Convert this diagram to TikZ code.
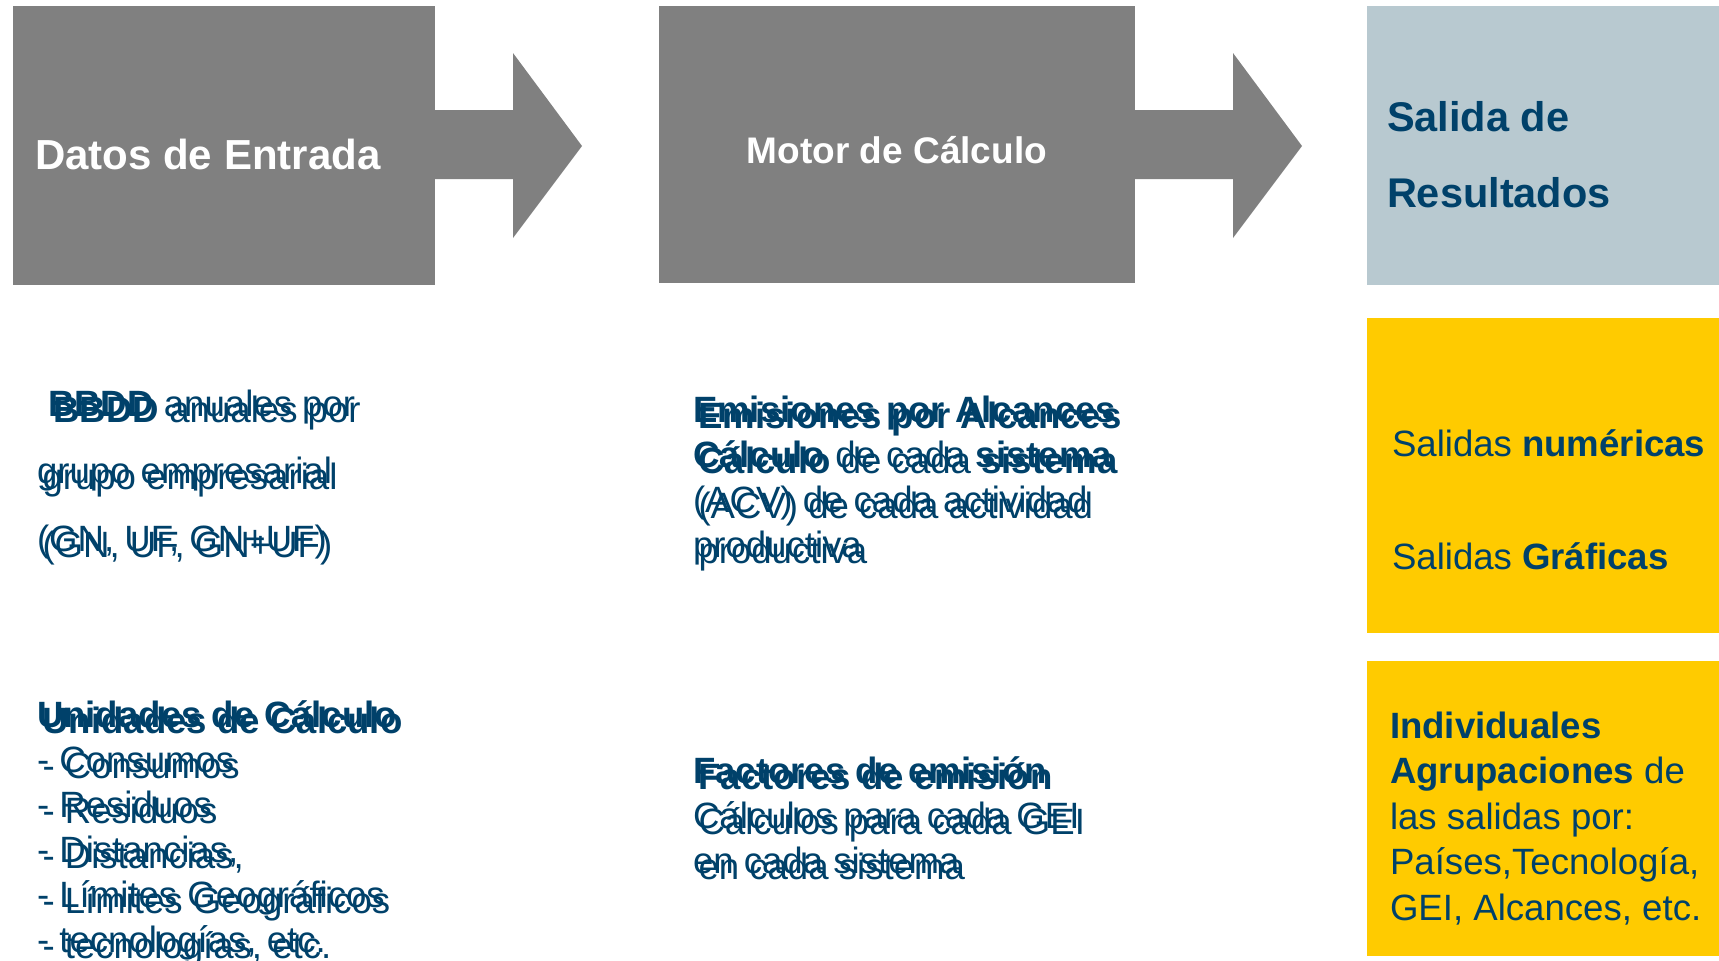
\documentclass[tikz,border=0pt]{standalone}
\usepackage{fontspec}
\setmainfont{Liberation Sans}
\definecolor{gr}{RGB}{128,128,128}
\definecolor{lb}{RGB}{184,201,208}
\definecolor{yl}{RGB}{255,203,0}
\definecolor{db}{RGB}{0,65,106}
\begin{document}
\begin{tikzpicture}[x=1pt,y=-1pt,
  blk/.style={inner sep=0pt, outer sep=0pt, anchor=north west, draw=none},
  txt/.style={inner sep=0pt, outer sep=0pt, anchor=base west, align=left, text=db, font=\fontsize{36.6}{45}\selectfont},
  dup/.style={xshift=5.5pt, yshift=-6pt}]
\useasboundingbox (0,0) rectangle (1719,961);
% top boxes
\node[blk, fill=gr, minimum width=422pt, minimum height=279.5pt] (box1) at (13,5.5) {};
\node[blk, fill=gr, minimum width=476pt, minimum height=277.5pt] (box2) at (659,5.5) {};
\node[blk, fill=lb, minimum width=352pt, minimum height=279.5pt] (box3) at (1367,5.5) {};
% arrows
\coordinate (tip1) at (582,146);
\coordinate (tip2) at (1302,146);
\fill[gr] (box1.east |- 0,110) -- (513,110) -- (513,53) -- (tip1) -- (513,238) -- (513,179) -- (box1.east |- 0,179) -- cycle;
\fill[gr] (box2.east |- 0,110) -- (1233,110) -- (1233,53) -- (tip2) -- (1233,238) -- (1233,179) -- (box2.east |- 0,179) -- cycle;
% yellow boxes
\node[blk, fill=yl, minimum width=352pt, minimum height=315pt] (yb1) at (1367,318) {};
\node[blk, fill=yl, minimum width=352pt, minimum height=295pt] (yb2) at (1367,661) {};
% titles (multi-line nodes are placed by the baseline of their last line)
\node[txt, text=white, font=\bfseries\fontsize{42}{50}\selectfont] (t1) at (35,169) {Datos de Entrada};
\node[txt, text=white, font=\bfseries\fontsize{37}{45}\selectfont, anchor=base] (t2) at (897,163) {Motor de Cálculo};
\node[txt, font=\bfseries\fontsize{41.5}{76}\selectfont] (t3) at (1387,207) {Salida de\\Resultados};
% yellow texts
\node[txt] (y1a) at (1392,456) {Salidas \textbf{numéricas}};
\node[txt] (y1b) at (1392,569) {Salidas \textbf{Gráficas}};
\node[txt, font=\fontsize{36.6}{45.5}\selectfont] (y2) at (1390,920) {\textbf{Individuales}\\\textbf{Agrupaciones} de\\las salidas por:\\Países,Tecnología,\\GEI, Alcances, etc.};
% left column (doubled as printed)
\node[txt, font=\fontsize{36.6}{67.5}\selectfont] (l1) at (37,551) {\hspace*{11pt}\textbf{BBDD} anuales por\\grupo empresarial\\(GN, UF, GN+UF)};
\node[txt, dup, font=\fontsize{36.6}{67.5}\selectfont] (l1b) at (37,551) {\hspace*{11pt}\textbf{BBDD} anuales por\\grupo empresarial\\(GN, UF, GN+UF)};
\node[txt] (l2) at (37,952) {\textbf{Unidades de Cálculo}\\- Consumos\\- Residuos\\- Distancias,\\- Límites Geográficos\\- tecnologías, etc.};
\node[txt, dup] (l2b) at (37,952) {\textbf{Unidades de Cálculo}\\- Consumos\\- Residuos\\- Distancias,\\- Límites Geográficos\\- tecnologías, etc.};
% middle column (doubled as printed)
\node[txt] (m1) at (693,557) {\textbf{Emisiones por Alcances}\\\textbf{Cálculo} de cada \textbf{sistema}\\(ACV) de cada actividad\\productiva};
\node[txt, dup] (m1b) at (693,557) {\textbf{Emisiones por Alcances}\\\textbf{Cálculo} de cada \textbf{sistema}\\(ACV) de cada actividad\\productiva};
\node[txt] (m2) at (693,873) {\textbf{Factores de emisión}\\Cálculos para cada GEI\\en cada sistema};
\node[txt, dup] (m2b) at (693,873) {\textbf{Factores de emisión}\\Cálculos para cada GEI\\en cada sistema};
\end{tikzpicture}
\end{document}
